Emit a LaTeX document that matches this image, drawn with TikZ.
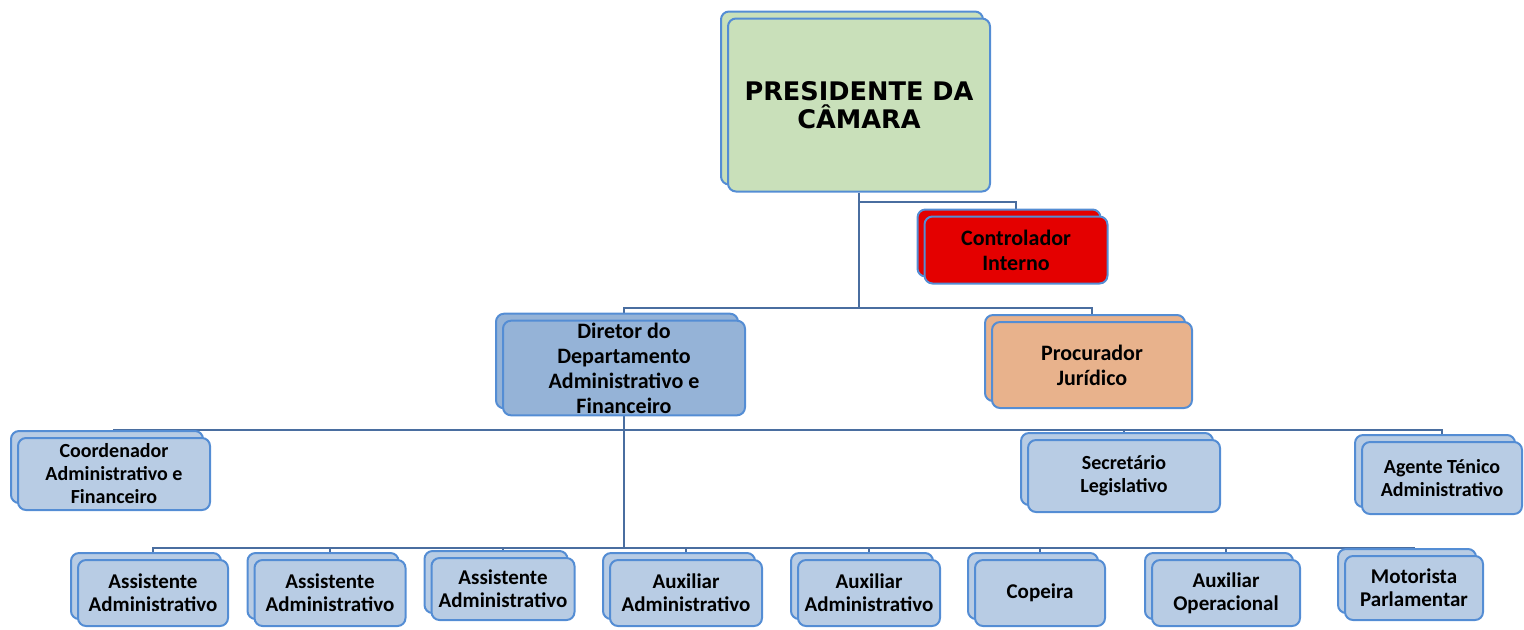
\documentclass[tikz,border=0pt]{standalone}
\usepackage{fontspec}
\setmainfont{Carlito}
\newfontfamily\presfont{DejaVu Sans}
\usetikzlibrary{shadows,backgrounds}
\definecolor{boxline}{RGB}{84,141,212}
\definecolor{linecol}{RGB}{74,110,160}
\definecolor{presgreen}{RGB}{201,224,186}
\definecolor{ctrlred}{RGB}{228,0,0}
\definecolor{procpeach}{RGB}{232,178,140}
\definecolor{dirblue}{RGB}{149,179,215}
\definecolor{cargoblue}{RGB}{184,204,228}

\begin{document}
\begin{tikzpicture}[x=0.5pt,y=-0.5pt,
    box/.style={draw=boxline,line width=1pt,rounded corners=4pt,align=center,
      inner sep=1pt,font=\bfseries\fontsize{10}{11.5}\selectfont,
      copy shadow={shadow xshift=-3.5pt,shadow yshift=3.5pt}},
    cargo/.style={box,fill=cargoblue},
    base/.style={cargo,font=\bfseries\fontsize{10.5}{11.5}\selectfont},
    conn/.style={draw=linecol,line width=1.1pt}]
    \useasboundingbox (0,0) rectangle (1524,629);

    % topo
    \node[box,fill=presgreen,minimum width=131pt,minimum height=86.5pt,
      font=\presfont\bfseries\fontsize{12.8}{14}\selectfont] (pres) at (859,105) {PRESIDENTE DA\\C\^AMARA};
    \node[box,fill=ctrlred,minimum width=91.5pt,minimum height=33.5pt,
      font=\bfseries\fontsize{11}{12.5}\selectfont] (ctrl) at (1016,250) {Controlador\\Interno};

    % segundo nivel
    \node[box,fill=dirblue,minimum width=121pt,minimum height=46.5pt,
      font=\bfseries\fontsize{11}{12.5}\selectfont] (dir) at (624,368) {Diretor do\\Departamento\\Administrativo e\\Financeiro};
    \node[box,fill=procpeach,minimum width=100pt,minimum height=43pt,
      font=\bfseries\fontsize{11}{12.5}\selectfont] (proc) at (1092,365) {Procurador\\Jur\'idico};

    % terceiro nivel
    \node[cargo,minimum width=96pt,minimum height=36pt] (coord) at (114,474) {Coordenador\\Administrativo e\\Financeiro};
    \node[cargo,minimum width=96pt,minimum height=36pt] (secr) at (1124,476) {Secret\'ario\\Legislativo};
    \node[cargo,minimum width=80pt,minimum height=36pt] (agen) at (1442,478) {Agente T\'enico\\Administrativo};

    % quarto nivel
    \node[base,minimum width=75pt,minimum height=33pt] (asa) at (153,593) {Assistente\\Administrativo};
    \node[base,minimum width=75.5pt,minimum height=33pt] (asb) at (330,593) {Assistente\\Administrativo};
    \node[base,minimum width=71.5pt,minimum height=31pt] (asc) at (503,589) {Assistente\\Administrativo};
    \node[base,minimum width=76pt,minimum height=33pt] (axa) at (686,593) {Auxiliar\\Administrativo};
    \node[base,minimum width=71pt,minimum height=33pt] (axb) at (869,593) {Auxiliar\\Administrativo};
    \node[base,minimum width=65pt,minimum height=33pt] (cop) at (1040,593) {Copeira};
    \node[base,minimum width=74pt,minimum height=33pt] (axo) at (1226,593) {Auxiliar\\Operacional};
    \node[base,minimum width=69pt,minimum height=32pt] (mot) at (1414,588) {Motorista\\Parlamentar};

    \coordinate (tapA) at (859,202);
    \coordinate (busA) at (859,308);
    \coordinate (busB) at (624,430);
    \coordinate (busC) at (624,548);

    \begin{scope}[on background layer]
        \draw[conn] (pres.south) -- (busA);
        \draw[conn] (tapA) -| (ctrl.north);
        \draw[conn] (busA) -| (dir.north);
        \draw[conn] (busA) -| (proc.north);
        \draw[conn] (dir.south) -- (busC);
        \foreach \n in {coord,secr,agen}
            \draw[conn] (busB) -| (\n.north);
        \foreach \n in {asa,asb,asc,axa,axb,cop,axo,mot}
            \draw[conn] (busC) -| (\n.north);
    \end{scope}
\end{tikzpicture}
\end{document}
